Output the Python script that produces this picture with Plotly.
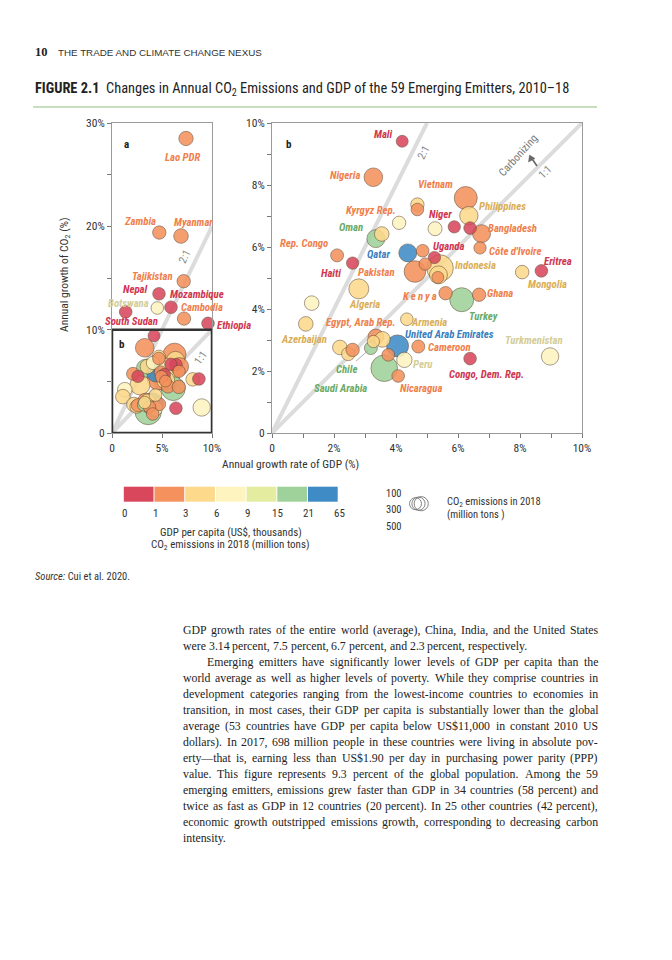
import math
import plotly.graph_objects as go

W, H = 672, 960

# ---------------- data ----------------
countries = [
    "Mali", "Nigeria", "Vietnam", "Kyrgyz Rep.", "", "", "Oman", "", "Niger", "",
    "", "Philippines", "Bangladesh", "Côte d'Ivoire", "Rep. Congo", "Haiti", "Qatar", "", "Uganda", "Pakistan",
    "Indonesia", "", "", "", "Eritrea", "Mongolia", "Kenya", "Turkey", "Ghana", "Algeria",
    "", "Azerbaijan", "Armenia", "Egypt, Arab Rep.", "", "", "United Arab Emirates", "Chile", "", "Peru",
    "Saudi Arabia", "Nicaragua", "Cameroon", "Congo, Dem. Rep.", "Turkmenistan", "", "", "",
    "Lao PDR", "Zambia", "Myanmar", "Tajikistan", "Nepal", "Botswana", "Mozambique", "Cambodia",
    "South Sudan", "Ethiopia",
]
gdp_growth = [  # annual growth rate of GDP (%)
    4.20, 3.27, 6.25, 4.69, 4.69, 4.10, 3.35, 3.54, 5.88, 6.39,
    5.26, 6.35, 6.76, 6.71, 2.10, 2.60, 4.38, 4.86, 5.24, 4.61,
    5.42, 5.37, 5.35, 4.94, 8.69, 8.07, 5.60, 6.12, 6.68, 2.80,
    1.28, 1.09, 4.35, 3.35, 3.56, 3.27, 4.05, 3.19, 3.75, 4.27,
    3.62, 4.07, 4.72, 6.39, 8.97, 2.19, 2.46, 2.60,
    7.40, 4.73, 6.90, 7.17, 4.70, 4.53, 5.90, 7.20,
    1.37, 9.60,
]
co2_growth = [  # annual growth of CO2 (%)
    9.41, 8.25, 7.58, 7.21, 7.37, 6.78, 6.27, 6.42, 6.65, 6.61,
    6.59, 7.01, 6.43, 5.97, 5.73, 5.48, 5.81, 5.88, 5.66, 5.21,
    5.32, 5.10, 5.02, 5.45, 5.23, 5.19, 4.51, 4.30, 4.46, 4.65,
    4.19, 3.52, 3.67, 3.10, 3.02, 2.95, 2.81, 2.74, 2.52, 2.36,
    2.09, 1.84, 2.79, 2.40, 2.47, 2.76, 2.55, 2.68,
    28.5, 19.4, 19.06, 14.69, 13.47, 12.10, 12.17, 11.07,
    11.72, 10.61,
]
gdp_per_capita = [  # US$ thousands
    0.8, 2.4, 1.9, 1.2, 4.5, 7.0, 16, 4.0, 0.5, 0.7,
    7.5, 3.5, 1.2, 1.6, 2.5, 0.8, 60, 2.0, 0.7, 1.2,
    4.2, 3.8, 1.5, 2.0, 0.6, 4.0, 1.2, 16, 1.9, 4.8,
    6.5, 5.8, 4.0, 2.6, 4.5, 4.2, 40, 15.5, 2.0, 6.5,
    20, 1.9, 1.4, 0.4, 7.0, 4.5, 5.0, 2.2,
    2.0, 1.6, 1.4, 1.1, 0.7, 7.5, 0.6, 1.1,
    0.9, 0.5,
]
co2_2018 = [  # million tons
    2, 133, 330, 6, 13, 13, 112, 30, 4, 6,
    21, 126, 112, 4, 9, 4, 112, 6, 4, 258,
    559, 112, 2, 4, 6, 15, 13, 388, 13, 186,
    30, 30, 6, 50, 50, 4, 278, 9, 6, 44,
    559, 6, 9, 6, 94, 30, 13, 13,
    26, 13, 30, 13, 6, 6, 6, 13,
    6, 6,
]

gdp_bins = [0, 1, 3, 6, 9, 15, 21, 65]
bin_labels = ["0", "1", "3", "6", "9", "15", "21", "65"]
size_legend_values = ["100", "300", "500"]

# ---------------- styles ----------------
FILL = ["#d8475c", "#f4915d", "#fcd98b", "#fdf4bf", "#e4eca0", "#9fd29a", "#3e8bc5"]
TEXTC = ["#cf3650", "#ef7f4d", "#d9ae58", "#d3cd97", "#b7c469", "#6aab68", "#3b7fc0"]
NARROW = "Liberation Sans Narrow, Roboto Condensed, Roboto, sans-serif"
SANS = "Liberation Sans, Arial, sans-serif"
SERIF = "Liberation Serif, Times New Roman, serif"


def cls(v):
    for i in range(len(gdp_bins) - 1):
        if v < gdp_bins[i + 1]:
            return i
    return len(gdp_bins) - 2


def diam(e):
    return 2 * (5.5 + 0.33 * math.sqrt(e))


def px(xp):
    return xp / W


def py(yp):
    return 1 - yp / H


# label offsets in pixels (dx right, dy up)
LABEL_B = {
    "Mali": (-19, 7), "Nigeria": (-28, 2), "Vietnam": (-30, 14), "Kyrgyz Rep.": (-46, -1),
    "Niger": (-14, 12), "Philippines": (34, 9), "Oman": (-25, 11), "Bangladesh": (31, 5),
    "Rep. Congo": (-33, 12), "Qatar": (-29, -2), "Uganda": (15, 11), "Côte d'Ivoire": (35, -4),
    "Eritrea": (17, 9), "Haiti": (-22, -10), "Pakistan": (-38, -1), "Indonesia": (35, 3),
    "Mongolia": (25, -12), "Kenya": (-26, -3), "Ghana": (21, 1), "Algeria": (6, -16),
    "Turkey": (22, -17), "Armenia": (22, -3), "Egypt, Arab Rep.": (-15, 14),
    "United Arab Emirates": (52, 11), "Azerbaijan": (-2, -16), "Turkmenistan": (-16, 16),
    "Cameroon": (31, -1), "Peru": (19, -5), "Congo, Dem. Rep.": (16, -16),
    "Saudi Arabia": (-44, -20), "Nicaragua": (23, -13),
}
LABEL_A = {
    "Lao PDR": (-4, -19), "Zambia": (-19, 11), "Myanmar": (12, 14), "Tajikistan": (-31, 5),
    "Nepal": (-24, 4.5), "Mozambique": (26, 13), "Botswana": (-29, 4.5), "Cambodia": (18, 11),
    "South Sudan": (6, -10), "Ethiopia": (26, -2),
}
LABEL_SIZE = 10.8

order = sorted(range(len(countries)), key=lambda i: -co2_2018[i])
fills = [FILL[cls(v)] for v in gdp_per_capita]

fig = go.Figure()


def bubble_trace(idx, xa, ya):
    return go.Scatter(
        x=[gdp_growth[i] for i in idx], y=[co2_growth[i] for i in idx],
        xaxis=xa, yaxis=ya, mode="markers", cliponaxis=False,
        marker=dict(size=[diam(co2_2018[i]) for i in idx],
                    color=[fills[i] for i in idx], opacity=0.87,
                    line=dict(color="rgba(90,70,50,0.75)", width=0.8)),
        text=[countries[i] for i in idx], hoverinfo="text", showlegend=False,
    )


fig.add_trace(bubble_trace(order, "x", "y"))
fig.add_trace(bubble_trace([i for i in order if co2_growth[i] <= 10], "x2", "y2"))

ann = []
shapes = []

# country labels
for i, name in enumerate(countries):
    col = TEXTC[cls(gdp_per_capita[i])]
    if name in LABEL_B and co2_growth[i] <= 10:
        dx, dy = LABEL_B[name]
        txt = "K\u2009e\u2009n\u2009y\u2009a" if name == "Kenya" else name
        ann.append(dict(x=gdp_growth[i], y=co2_growth[i], xref="x2", yref="y2", xshift=dx, yshift=dy,
                        text="<b><i>%s</i></b>" % txt, showarrow=False,
                        font=dict(family=NARROW, size=LABEL_SIZE, color=col)))
    if name in LABEL_A:
        dx, dy = LABEL_A[name]
        ann.append(dict(x=gdp_growth[i], y=co2_growth[i], xref="x", yref="y", xshift=dx, yshift=dy,
                        text="<b><i>%s</i></b>" % name, showarrow=False,
                        font=dict(family=NARROW, size=LABEL_SIZE, color=col)))
    if name == "Chile":
        ann.append(dict(x=gdp_growth[i], y=co2_growth[i], xref="x2", yref="y2", ax=-24, ay=21,
                        text="<b><i>Chile</i></b>", showarrow=True, arrowhead=0, arrowwidth=0.8,
                        arrowcolor="#999", standoff=4,
                        font=dict(family=NARROW, size=LABEL_SIZE, color=col)))

# reference lines
for xr, yr, pts in (("x", "y", [(10, 20), (10, 10)]), ("x2", "y2", [(5, 10), (10, 10)])):
    for (x1, y1) in pts:
        shapes.append(dict(type="line", xref=xr, yref=yr, x0=0, y0=0, x1=x1, y1=y1,
                           line=dict(color="#dcdcdc", width=4), layer="below"))
# inset box in panel a
shapes.append(dict(type="rect", xref="x", yref="y", x0=0, y0=0, x1=10, y1=10,
                   line=dict(color="#333", width=2.5), layer="above"))


def ptext(x, y, text, size=10, color="#333", family=NARROW, xanchor="left", angle=0):
    ann.append(dict(x=px(x), y=py(y), xref="paper", yref="paper", text=text, showarrow=False,
                    xanchor=xanchor, yanchor="middle", textangle=angle,
                    font=dict(family=family, size=size, color=color)))


# panel letters and line labels
ptext(126, 145, "<b>a</b>", 11, "#222", xanchor="center")
ptext(289, 145, "<b>b</b>", 11, "#222", xanchor="center")
ptext(122, 344, "<b>b</b>", 11, "#222", xanchor="center")
ptext(423, 153, "2:1", 11, "#888", xanchor="center", angle=-63)
ptext(545, 173, "1:1", 11, "#888", xanchor="center", angle=-45)
ptext(184, 257, "2:1", 11, "#888", xanchor="center", angle=-64)
ptext(200, 358, "1:1", 11, "#888", xanchor="center", angle=-55)
ptext(518, 155, "Carbonizing", 11, "#777", xanchor="center", angle=-48)
# small arrow next to "Carbonizing"
shapes.append(dict(type="line", xref="paper", yref="paper", x0=px(537), y0=py(166), x1=px(532.5), y1=py(159.5),
                   line=dict(color="#666", width=1.6)))
shapes.append(dict(type="path", xref="paper", yref="paper",
                   path="M %f %f L %f %f L %f %f Z" % (px(529.5), py(155), px(528.5), py(162), px(535), py(158.5)),
                   line=dict(color="#666", width=0.5), fillcolor="#666"))

# axis titles
ptext(65, 275, "Annual growth of CO<sub>2</sub> (%)", 11.5, "#333", xanchor="center", angle=-90)
ptext(290, 464, "Annual growth rate of GDP (%)", 11.5, "#333", xanchor="center")

# header
ptext(33, 52, "<b>10</b>", 12.5, "#222", family=SERIF)
ptext(56, 52, "THE TRADE AND CLIMATE CHANGE NEXUS", 9.8, "#333", family=SANS)
ptext(33, 89, "<b>FIGURE 2.1</b>  Changes in Annual CO<sub>2</sub> Emissions and GDP of the 59 Emerging Emitters, 2010–18",
      14.4, "#222")
shapes.append(dict(type="line", xref="paper", yref="paper", x0=px(33), x1=px(597), y0=py(107), y1=py(107),
                   line=dict(color="#8fbf7f", width=1.2)))

# colour legend
x0, wseg = 123.3, 30.7
for k, c in enumerate(FILL):
    shapes.append(dict(type="rect", xref="paper", yref="paper",
                       x0=px(x0 + k * wseg + 0.5), x1=px(x0 + (k + 1) * wseg - 0.5),
                       y0=py(501.7), y1=py(486.7), line=dict(width=0), fillcolor=c))
for k, lab in enumerate(bin_labels):
    ptext(x0 + k * wseg + 1, 513, lab, 11, "#333", xanchor="center")
ptext(231, 532, "GDP per capita (US$, thousands)", 11, "#333", xanchor="center")
ptext(230, 545, "CO<sub>2</sub> emissions in 2018 (million tons)", 11, "#333", xanchor="center")

# size legend
for k, lab in enumerate(size_legend_values):
    ptext(394, 493 + 16.7 * k, lab, 10.5, "#333", xanchor="center")
for cx, r in ((415.5, 6.0), (418.5, 6.6), (421.2, 7.1)):
    shapes.append(dict(type="circle", xref="paper", yref="paper",
                       x0=px(cx - r), x1=px(cx + r), y0=py(503.7 + r), y1=py(503.7 - r),
                       line=dict(color="#777", width=0.9), fillcolor="rgba(0,0,0,0)"))
ptext(445, 502, "CO<sub>2</sub> emissions in 2018", 10.5, "#333")
ptext(445, 514, "(million tons )", 10.5, "#333")

ptext(33, 576, "<i>Source:</i> Cui et al. 2020.", 10.5, "#333")

# body text (justified word by word using Times metrics)
body = [
    "GDP growth rates of the entire world (average), China, India, and the United States",
    "were 3.14 percent, 7.5 percent, 6.7 percent, and 2.3 percent, respectively.",
    "Emerging emitters have significantly lower levels of GDP per capita than the",
    "world average as well as higher levels of poverty. While they comprise countries in",
    "development categories ranging from the lowest-income countries to economies in",
    "transition, in most cases, their GDP per capita is substantially lower than the global",
    "average (53 countries have GDP per capita below US$11,000 in constant 2010 US",
    "dollars). In 2017, 698 million people in these countries were living in absolute pov-",
    "erty\u2014that is, earning less than US$1.90 per day in purchasing power parity (PPP)",
    "value. This figure represents 9.3 percent of the global population. Among the 59",
    "emerging emitters, emissions grew faster than GDP in 34 countries (58 percent) and",
    "twice as fast as GDP in 12 countries (20 percent). In 25 other countries (42 percent),",
    "economic growth outstripped emissions growth, corresponding to decreasing carbon",
    "intensity.",
]
TW = {c: w for c, w in zip("abcdefghijklmnopqrstuvwxyz",
                           [444, 500, 444, 500, 444, 333, 500, 500, 278, 278, 500, 278, 778,
                            500, 500, 500, 500, 333, 389, 278, 500, 500, 722, 500, 500, 444])}
TW.update({c: w for c, w in zip("ABCDEFGHIJKLMNOPQRSTUVWXYZ",
                                [722, 667, 667, 722, 611, 556, 722, 722, 333, 389, 722, 611, 889,
                                 722, 722, 556, 722, 667, 556, 611, 722, 722, 944, 722, 722, 611])})
TW.update({c: 500 for c in "0123456789$"})
TW.update({".": 250, ",": 250, "(": 333, ")": 333, "-": 333, "\u2014": 1000, "%": 833,
           ":": 278, ";": 278, "'": 333})
BODY_SIZE = 11.8
LEFT, RIGHT = 181, 596


def word_w(wd):
    return sum(TW.get(ch, 500) for ch in wd) * BODY_SIZE / 1000


for k, line in enumerate(body):
    start = 205 if k == 2 else LEFT
    words = line.split(" ")
    widths = [word_w(wd) for wd in words]
    natural_gap = 0.25 * BODY_SIZE
    if k in (1, len(body) - 1) or len(words) == 1:
        gap = natural_gap
    else:
        gap = (RIGHT - start - sum(widths)) / (len(words) - 1)
    xpos = start
    for wd, wdw in zip(words, widths):
        ann.append(dict(x=px(xpos), y=py(630 + 16 * k), xref="paper", yref="paper", text=wd,
                        showarrow=False, xanchor="left", yanchor="middle",
                        font=dict(family=SERIF, size=BODY_SIZE, color="#222")))
        xpos += wdw + gap

tickfont = dict(family=NARROW, size=11.5, color="#333")
common = dict(showgrid=False, zeroline=False, showline=True, mirror=True, linecolor="#9a9a9a",
              linewidth=1, ticks="outside", ticklen=4, tickcolor="#777", tickfont=tickfont,
              fixedrange=True, automargin=False)
ya_dom = [py(433), py(123)]

fig.update_layout(
    width=W, height=H, margin=dict(l=0, r=0, t=0, b=0, autoexpand=False),
    paper_bgcolor="white", plot_bgcolor="rgba(0,0,0,0)",
    xaxis=dict(domain=[px(112), px(212)], range=[0, 10], anchor="y",
               tickvals=[0, 5, 10], ticktext=["0", "5%", "10%"], **common),
    yaxis=dict(domain=ya_dom, range=[0, 30], anchor="x",
               tickvals=[0, 10, 20, 30], ticktext=["0", "10%", "20%", "30%"],
               minor=dict(tickvals=[5, 15, 25], ticks="outside", ticklen=4, tickcolor="#777"), **common),
    xaxis2=dict(domain=[px(272), px(582)], range=[0, 10], anchor="y2",
                tickvals=[0, 2, 4, 6, 8, 10], ticktext=["0", "2%", "4%", "6%", "8%", "10%"],
                minor=dict(tickvals=[1, 3, 5, 7, 9], ticks="outside", ticklen=4, tickcolor="#777"), **common),
    yaxis2=dict(domain=ya_dom, range=[0, 10], anchor="x2",
                tickvals=[0, 2, 4, 6, 8, 10], ticktext=["0", "2%", "4%", "6%", "8%", "10%"],
                minor=dict(tickvals=[1, 3, 5, 7, 9], ticks="outside", ticklen=4, tickcolor="#777"), **common),
    annotations=ann, shapes=shapes,
)

fig.write_html("out.html", config={"displayModeBar": False},
               post_script="document.body.style.margin='0';document.body.style.overflow='hidden';")
